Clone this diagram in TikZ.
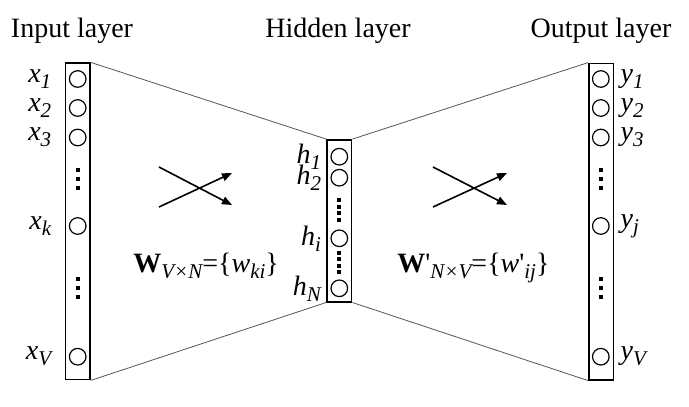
\documentclass[tikz,border=0pt]{standalone}
\usepackage{fontspec}
\setmainfont{Liberation Serif}
\usetikzlibrary{arrows.meta,positioning}
\definecolor{edge}{HTML}{555555}
\newcommand{\lsub}[1]{\raisebox{-3pt}{\fontsize{10.5}{12}\selectfont\itshape #1}}

\begin{document}
\begin{tikzpicture}[
  x=0.5pt, y=-0.5pt,
  every node/.style={font=\fontsize{14}{17}\selectfont},
  layerbox/.style={draw, line width=0.9pt, minimum width=12.2pt, inner sep=0pt},
  unit/.style={circle, draw, line width=0.6pt, minimum size=8.3pt, inner sep=0pt},
  dotsq/.style={rectangle, fill, minimum size=2pt, inner sep=0pt},
  tag/.style={inner sep=0pt},
  funnel/.style={draw=edge, line width=0.4pt},
  cross/.style={-{Triangle[length=5pt,width=4pt]}, line width=0.8pt}
]
  \useasboundingbox (0,0) rectangle (689,406);

  % layer boxes
  \node[layerbox, minimum height=158.1pt] (inbox) at (77.7,221.4) {};
  \node[layerbox, minimum height=80.8pt] (hidbox) at (339.3,220.8) {};
  \node[layerbox, minimum height=158.1pt] (outbox) at (601.2,221.6) {};

  % titles
  \node[anchor=base] (intitle) at (72,38) {Input layer};
  \node[anchor=base] (hidtitle) at (338,38) {Hidden layer};
  \node[anchor=base] (outtitle) at (601,38) {Output layer};

  % units and their labels
  \foreach \n/\y/\s in {x1/79/1, x2/108/2, x3/137.5/3, xk/226/k, xV/356.7/V} {
    \node[unit] (\n) at (77.7,\y) {};
    \node[tag, left=8.6pt of \n] (l\n) {\textit{x}\lsub{\s}};
  }
  \foreach \n/\y/\s in {h1/156.7/1, h2/177.7/2, hi/238.3/i, hN/288.3/N} {
    \node[unit] (\n) at (339.3,\y) {};
    \node[tag, left=4.5pt of \n] (l\n) {\textit{h}\lsub{\s}};
  }
  \foreach \n/\y/\s in {y1/79/1, y2/108/2, y3/137.5/3, yj/226/j, yV/356.7/V} {
    \node[unit] (\n) at (600.8,\y) {};
    \node[tag, right=5.3pt of \n] (l\n) {\textit{y}\lsub{\s}};
  }

  % vertical dots
  \foreach \y [count=\i] in {170,179,188,279,288,297} {
    \node[dotsq] (din\i) at (77.7,\y) {};
    \node[dotsq] (dout\i) at (600.8,\y) {};
  }
  \foreach \y [count=\i] in {200,206.7,213.3,220,253,259.3,265.7,272}
    \node[dotsq] (dhid\i) at (339.3,\y) {};

  % funnel outline
  \draw[funnel] (inbox.north east) -- (hidbox.north west);
  \draw[funnel] (inbox.south east) -- (hidbox.south west);
  \draw[funnel] (hidbox.north east) -- (outbox.north west);
  \draw[funnel] (hidbox.south east) -- (outbox.south west);

  % crossing arrows
  \coordinate (la1) at (159,167); \coordinate (la2) at (232,205);
  \coordinate (la3) at (159,207); \coordinate (la4) at (232,173);
  \coordinate (ra1) at (433,167); \coordinate (ra2) at (507,205);
  \coordinate (ra3) at (433,207); \coordinate (ra4) at (507,173);
  \draw[cross] (la1) -- (la2);
  \draw[cross] (la3) -- (la4);
  \draw[cross] (ra1) -- (ra2);
  \draw[cross] (ra3) -- (ra4);

  % weight matrices
  \node[anchor=base west, inner sep=0pt] (win) at (133,272)
    {\textbf{W}\lsub{V×N}=\{\textit{w}\lsub{ki}\}};
  \node[anchor=base west, inner sep=0pt] (wout) at (397,272)
    {\textbf{W}\textquotesingle\lsub{N×V}=\{\textit{w}\textquotesingle\lsub{ij}\}};
\end{tikzpicture}
\end{document}
